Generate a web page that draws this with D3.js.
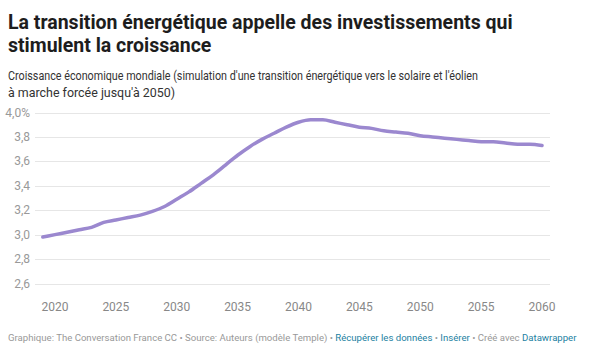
<!DOCTYPE html>
<html>
<head>
<meta charset="utf-8">
<script src="https://cdn.jsdelivr.net/npm/d3@7"></script>
<style>
  body { margin: 0; background: #fff; font-family: Roboto, "Noto Sans", sans-serif; }
</style>
</head>
<body>
<div id="chart"></div>
<script>
// Data
const years = [2019, 2020, 2021, 2022, 2023, 2024, 2025, 2026, 2027, 2028, 2029,
  2030, 2031, 2032, 2033, 2034, 2035, 2036, 2037, 2038, 2039,
  2040, 2041, 2042, 2043, 2044, 2045, 2046, 2047, 2048, 2049,
  2050, 2051, 2052, 2053, 2054, 2055, 2056, 2057, 2058, 2059, 2060];
const growth = [2.98, 3.00, 3.02, 3.04, 3.06, 3.10, 3.12, 3.14, 3.16, 3.19, 3.23,
  3.29, 3.35, 3.42, 3.49, 3.57, 3.65, 3.72, 3.78, 3.83, 3.88,
  3.92, 3.94, 3.94, 3.92, 3.90, 3.88, 3.87, 3.85, 3.84, 3.83,
  3.81, 3.80, 3.79, 3.78, 3.77, 3.76, 3.76, 3.75, 3.74, 3.74, 3.73];
const yTicks = [2.6, 2.8, 3.0, 3.2, 3.4, 3.6, 3.8, 4.0];
const xTicks = [2020, 2025, 2030, 2035, 2040, 2045, 2050, 2055, 2060];

const titleLines = ["La transition énergétique appelle des investissements qui", "stimulent la croissance"];
const subtitleLines = ["Croissance économique mondiale (simulation d'une transition énergétique vers le solaire et l'éolien",
  "à marche forcée jusqu'à 2050)"];
// widths the condensed subtitle lines take in the reference
const subtitleWidths = [470, 167];

const W = 600, H = 350;
const gridLeft = 35, gridRight = 550;

let svg = d3.select("#chart").append("svg")
  .attr("width", W)
  .attr("height", H);

// header
svg.append("g").selectAll("text")
  .data(titleLines)
  .join("text")
    .attr("x", 8)
    .attr("y", (d, i) => 29 + i * 23)
    .attr("font-size", 19.5)
    .attr("font-weight", 700)
    .attr("fill", "#1d1d1d")
    .text(d => d);

svg.append("g").selectAll("text")
  .data(subtitleLines)
  .join("text")
    .attr("x", 8)
    .attr("y", (d, i) => 80 + i * 17)
    .attr("font-size", 13.5)
    .attr("fill", "#333")
    .attr("textLength", (d, i) => subtitleWidths[i])
    .attr("lengthAdjust", "spacingAndGlyphs")
    .text(d => d);

// scales
let x = d3.scaleLinear()
  .domain([2020, 2060])
  .range([55, 542]);

let y = d3.scaleLinear()
  .domain([2.6, 4.0])
  .range([283.5, 112.5]);

// grid lines + y labels
let grid = svg.append("g");
grid.selectAll("line")
  .data(yTicks)
  .join("line")
    .attr("x1", gridLeft)
    .attr("x2", gridRight)
    .attr("y1", d => Math.round(y(d)) + 0.5)
    .attr("y2", d => Math.round(y(d)) + 0.5)
    .attr("stroke", "#e6e6e6")
    .attr("stroke-width", 1);

grid.selectAll("text")
  .data(yTicks)
  .join("text")
    .attr("x", 30)
    .attr("y", d => y(d) + 4)
    .attr("text-anchor", "end")
    .attr("font-size", 12)
    .attr("fill", "#999")
    .text(d => d3.format(".1f")(d).replace(".", ",") + (d === 4.0 ? "%" : ""));

// x axis labels
svg.append("g").selectAll("text")
  .data(xTicks)
  .join("text")
    .attr("x", d => x(d))
    .attr("y", 311)
    .attr("text-anchor", "middle")
    .attr("font-size", 12)
    .attr("fill", "#888")
    .text(d => d);

// line
let line = d3.line()
  .x((d, i) => x(years[i]))
  .y(d => y(d))
  .curve(d3.curveMonotoneX);

svg.append("path")
  .datum(growth)
  .attr("d", line)
  .attr("fill", "none")
  .attr("stroke", "#9b88cf")
  .attr("stroke-width", 3.5)
  .attr("stroke-linejoin", "round")
  .attr("stroke-linecap", "round");

// footer
let foot = svg.append("text")
  .attr("x", 8)
  .attr("y", 341)
  .attr("font-size", 9.6)
  .attr("fill", "#999");
const footParts = [
  ["Graphique: The Conversation France CC • Source: Auteurs (modèle Temple) • ", "#999"],
  ["Récupérer les données", "#1d81a2"],
  [" • ", "#999"],
  ["Insérer", "#1d81a2"],
  [" • Créé avec ", "#999"],
  ["Datawrapper", "#1d81a2"]
];
foot.selectAll("tspan")
  .data(footParts)
  .join("tspan")
    .attr("fill", d => d[1])
    .text(d => d[0]);
</script>
</body>
</html>
